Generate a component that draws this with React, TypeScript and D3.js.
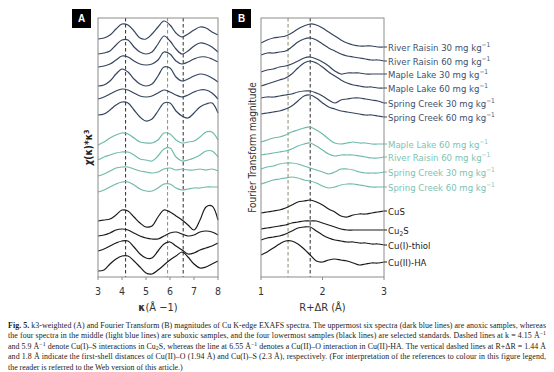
import React from "react";
import * as d3 from "d3";

// k grid (Å-1) for panel A and R+ΔR grid (Å) for panel B
const kGrid = [3, 3.25, 3.5, 3.75, 4, 4.25, 4.5, 4.75, 5, 5.25, 5.5, 5.75, 6, 6.25, 6.5, 6.75, 7, 7.25, 7.5, 7.75, 8];
const rGrid = [1, 1.1, 1.2, 1.3, 1.4, 1.5, 1.6, 1.7, 1.8, 1.9, 2, 2.1, 2.2, 2.3, 2.4, 2.5, 2.6, 2.7, 2.8, 2.9, 3];

// panel A: k3-weighted chi(k), stacked (offset units)
const chiRR30 = [23.8, 23.9, 24.2, 24.8, 25.3, 25.2, 24.6, 23.9, 23.8, 24.3, 25.0, 25.6, 25.2, 24.4, 24.0, 24.3, 24.7, 25.0, 24.9, 24.5, 24.2];
const chiRR60 = [22.3, 22.4, 22.6, 23.2, 23.7, 23.7, 23.0, 22.5, 22.3, 22.5, 23.3, 24.1, 23.6, 22.8, 22.3, 22.6, 23.1, 23.4, 23.3, 23.0, 22.5];
const chiML30 = [21.0, 21.1, 21.3, 21.7, 22.1, 22.0, 21.6, 21.3, 21.2, 21.3, 21.7, 22.5, 22.3, 21.6, 21.3, 21.5, 21.8, 22.0, 22.0, 21.8, 21.5];
const chiML60 = [19.1, 19.2, 19.6, 20.3, 20.8, 20.5, 19.8, 19.3, 19.1, 19.3, 20.1, 21.0, 20.9, 20.0, 19.6, 19.8, 20.1, 20.3, 20.2, 19.9, 19.5];
const chiSC30 = [17.8, 18.0, 18.3, 18.6, 18.8, 18.7, 18.4, 18.1, 18.0, 18.1, 18.4, 18.7, 18.5, 18.2, 18.0, 18.2, 18.5, 18.7, 18.7, 18.4, 17.8];
const chiSC60 = [16.2, 16.3, 16.7, 17.2, 17.5, 17.4, 16.7, 16.0, 15.6, 15.8, 16.6, 17.4, 17.4, 16.6, 16.1, 15.9, 16.4, 17.0, 17.3, 17.4, 16.4];
const chiML60s = [13.2, 13.5, 13.9, 14.2, 14.4, 14.3, 13.9, 13.5, 13.4, 13.4, 13.7, 14.4, 14.3, 13.7, 13.4, 13.5, 13.6, 14.0, 14.5, 14.5, 13.7];
const chiRR60s = [11.7, 12.0, 12.2, 12.4, 12.5, 12.5, 12.2, 11.8, 11.7, 11.6, 12.1, 12.8, 12.9, 12.0, 11.6, 11.7, 11.9, 12.2, 12.6, 12.6, 12.0];
const chiSC30s = [10.1, 10.3, 10.6, 10.9, 11.0, 11.0, 10.8, 10.6, 10.5, 10.4, 10.5, 10.8, 10.9, 10.7, 10.8, 10.7, 10.7, 10.8, 10.7, 10.8, 10.6];
const chiSC60s = [8.5, 8.7, 9.0, 9.3, 9.5, 9.5, 9.2, 8.8, 8.6, 8.6, 8.9, 9.3, 9.3, 8.9, 8.7, 8.8, 8.9, 8.9, 9.0, 9.0, 9.0];
const chiCuS = [5.6, 5.7, 5.8, 6.2, 6.7, 6.6, 6.0, 5.4, 5.0, 5.1, 6.0, 6.7, 6.5, 6.1, 5.7, 5.2, 4.7, 5.7, 7.0, 7.1, 5.7];
const chiCu2S = [4.1, 4.2, 4.4, 4.7, 4.8, 4.7, 4.4, 4.1, 3.9, 3.8, 3.8, 4.1, 4.4, 4.5, 4.3, 4.1, 4.2, 4.5, 4.6, 4.5, 4.2];
const chiThiol = [2.6, 2.8, 3.1, 3.4, 3.6, 3.6, 3.0, 2.3, 1.9, 1.9, 2.6, 3.3, 3.5, 3.1, 2.7, 2.3, 2.4, 2.7, 2.9, 3.1, 3.4];
const chiHA = [0.6, 0.7, 1.3, 1.8, 2.1, 2.1, 1.6, 1.0, 0.4, 0.3, 0.7, 1.2, 1.7, 2.1, 2.5, 2.0, 1.3, 0.9, 1.0, 1.3, 1.6];

// panel B: Fourier transform magnitude, stacked
const ftRR30 = [23.4, 23.7, 23.9, 24.0, 24.1, 24.4, 24.8, 25.1, 25.3, 25.2, 24.9, 24.5, 24.1, 23.7, 23.4, 23.2, 23.1, 23.1, 23.1, 23.0, 23.0];
const ftRR60 = [22.2, 22.4, 22.4, 22.5, 22.6, 23.0, 23.5, 23.8, 23.9, 23.7, 23.3, 22.9, 22.6, 22.3, 22.1, 22.0, 21.9, 21.8, 21.7, 21.7, 21.6];
const ftML30 = [20.5, 20.7, 20.8, 21.0, 21.1, 21.3, 21.6, 21.9, 22.0, 21.8, 21.5, 21.1, 20.6, 20.3, 20.4, 20.4, 20.4, 20.3, 20.3, 20.3, 20.3];
const ftML60 = [19.1, 19.3, 19.5, 19.7, 19.9, 20.3, 20.9, 21.4, 21.6, 21.4, 21.0, 20.5, 20.1, 19.7, 19.4, 19.2, 19.1, 19.0, 19.0, 18.9, 18.9];
const ftSC30 = [17.9, 18.0, 18.0, 18.1, 18.2, 18.3, 18.5, 18.6, 18.6, 18.4, 18.1, 17.7, 17.4, 17.7, 17.8, 17.9, 17.9, 17.8, 17.7, 17.6, 17.4];
const ftSC60 = [16.3, 16.4, 16.5, 16.6, 16.8, 17.1, 17.6, 18.1, 18.2, 17.9, 17.4, 17.0, 16.8, 16.6, 16.5, 16.4, 16.3, 16.2, 16.2, 16.1, 16.0];
const ftML60s = [13.5, 13.7, 13.9, 14.0, 14.2, 14.5, 14.7, 14.9, 15.0, 14.7, 14.3, 13.8, 13.4, 13.3, 13.4, 13.5, 13.4, 13.4, 13.3, 13.3, 13.3];
const ftRR60s = [12.2, 12.3, 12.4, 12.5, 12.6, 12.8, 13.1, 13.3, 13.4, 13.1, 12.7, 12.3, 12.1, 12.2, 12.2, 12.2, 12.1, 12.0, 11.9, 11.9, 12.0];
const ftSC30s = [10.8, 11.0, 11.1, 11.3, 11.4, 11.4, 11.3, 11.1, 10.9, 10.7, 10.5, 10.3, 10.5, 10.8, 10.8, 10.7, 10.5, 10.4, 10.4, 10.4, 10.5];
const ftSC60s = [9.3, 9.5, 9.7, 9.8, 9.9, 10.0, 9.9, 9.7, 9.6, 9.4, 9.1, 8.9, 9.0, 9.2, 9.3, 9.3, 9.2, 9.1, 9.0, 9.0, 9.0];
const ftCuS = [6.4, 6.5, 6.6, 6.7, 6.9, 7.2, 7.5, 7.6, 7.7, 7.5, 7.2, 6.8, 6.5, 6.1, 6.0, 6.2, 6.3, 6.3, 6.4, 6.5, 6.6];
const ftCu2S = [4.8, 4.9, 5.0, 5.1, 5.2, 5.4, 5.5, 5.6, 5.6, 5.6, 5.4, 5.2, 5.0, 4.8, 4.7, 4.7, 4.7, 4.7, 4.7, 4.7, 4.7];
const ftThiol = [3.7, 3.9, 4.0, 4.1, 4.3, 4.6, 4.9, 5.0, 5.0, 4.6, 4.2, 3.9, 3.7, 3.6, 3.5, 3.5, 3.4, 3.4, 3.3, 3.3, 3.2];
const ftHA = [2.2, 2.5, 2.9, 3.3, 3.6, 3.6, 3.3, 2.8, 2.2, 1.6, 1.5, 1.7, 1.8, 1.7, 1.6, 1.4, 1.2, 1.3, 1.4, 1.4, 1.5];

const sampleLabels = [
  "River Raisin 30", "River Raisin 60", "Maple Lake 30", "Maple Lake 60", "Spring Creek 30", "Spring Creek 60",
  "Maple Lake 60", "River Raisin 60", "Spring Creek 30", "Spring Creek 60",
];
const standardLabels = ["CuS", "Cu2S", "Cu(I)-thiol", "Cu(II)-HA"];
const groups = ["anoxic", "anoxic", "anoxic", "anoxic", "anoxic", "anoxic", "suboxic", "suboxic", "suboxic", "suboxic", "std", "std", "std", "std"];

const chiSeries = [chiRR30, chiRR60, chiML30, chiML60, chiSC30, chiSC60, chiML60s, chiRR60s, chiSC30s, chiSC60s, chiCuS, chiCu2S, chiThiol, chiHA];
const ftSeries = [ftRR30, ftRR60, ftML30, ftML60, ftSC30, ftSC60, ftML60s, ftRR60s, ftSC30s, ftSC60s, ftCuS, ftCu2S, ftThiol, ftHA];

const kTicks = [3, 4, 5, 6, 7, 8];
const rTicks = [1, 2, 3];
const kDashed = [4.15, 5.9, 6.55];
const rDashed = [1.44, 1.8];

const lineColor: Record<string, string> = { anoxic: "#34445f", suboxic: "#6fbaab", std: "#1a1a1a" };
const labelColor: Record<string, string> = { anoxic: "#41506e", suboxic: "#7dc2b4", std: "#1a1a1a" };
const sans = "'Liberation Sans Narrow', 'DejaVu Sans Condensed', 'Arial Narrow', sans-serif";
const serif = "'Liberation Serif', 'DejaVu Serif', serif";

const top = 18;
const bottom = 277;
const y = d3.scaleLinear().domain([0, 25.9]).range([bottom, top]);
const xA = d3.scaleLinear().domain([3, 8]).range([98, 218]);
const xB = d3.scaleLinear().domain([1, 3]).range([261, 384]);

function Panel({ x, grid, series, ticks, dashed, dashColors }: any) {
  const line = d3
    .line<number>()
    .x((_, i) => x(grid[i]))
    .y((d) => y(d))
    .curve(d3.curveCatmullRom);
  const [x0, x1] = x.range();
  return (
    <g>
      {dashed.map((d: number, i: number) => (
        <line key={"d" + i} x1={x(d)} x2={x(d)} y1={top} y2={bottom}
          stroke={dashColors[i]} strokeWidth={1} strokeDasharray="3.5,2.5" />
      ))}
      {series.map((s: number[], i: number) => (
        <path key={i} d={line(s) || ""} fill="none" stroke={lineColor[groups[i]]} strokeWidth={1.2} />
      ))}
      <rect x={x0} y={top} width={x1 - x0} height={bottom - top} fill="none" stroke="#8c8c8c" strokeWidth={1} />
      {ticks.map((t: number) => (
        <g key={t}>
          <line x1={x(t)} x2={x(t)} y1={bottom} y2={bottom + 3} stroke="#8c8c8c" />
          <text x={x(t)} y={295} textAnchor="middle" fontSize={10.5} fill="#333" fontFamily={sans}>{t}</text>
        </g>
      ))}
    </g>
  );
}

function SampleLabel({ i, yPos }: { i: number; yPos: number }) {
  const c = labelColor[groups[i]];
  if (i < 10) {
    return (
      <text x={388} y={yPos + 3.5} fontSize={9.5} fill={c} fontFamily={sans}>
        {sampleLabels[i]} mg kg
        <tspan fontSize={6.5} dy={-3.5}>{"\u22121"}</tspan>
      </text>
    );
  }
  const name = standardLabels[i - 10];
  if (name === "Cu2S") {
    return (
      <text x={388} y={yPos + 3.5} fontSize={9.5} fill={c} fontFamily={sans}>
        Cu<tspan fontSize={6.5} dy={2}>2</tspan><tspan dy={-2}>S</tspan>
      </text>
    );
  }
  return (
    <text x={388} y={yPos + 3.5} fontSize={9.5} fill={c} fontFamily={sans}>{name}</text>
  );
}

const sup = (s: string) => <tspan fontSize={5.8} dy={-3}>{s}</tspan>;
const base = (s: string) => <tspan dy={3}>{s}</tspan>;

export default function App() {
  const capX = 8;
  const capW = 538;
  const capFont = 7.9;
  return (
    <svg width={554} height={372} style={{ position: "absolute", left: 0, top: 0, background: "#fff" }}>
      {/* panel tags */}
      <rect x={72} y={9} width={19} height={19} fill="#000" />
      <text x={81.5} y={22} textAnchor="middle" fill="#fff" fontSize={10} fontWeight="bold" fontFamily="'Liberation Sans', Arial, sans-serif">A</text>
      <rect x={232} y={9} width={19} height={19} fill="#000" />
      <text x={241.5} y={22} textAnchor="middle" fill="#fff" fontSize={10} fontWeight="bold" fontFamily="'Liberation Sans', Arial, sans-serif">B</text>

      <Panel x={xA} grid={kGrid} series={chiSeries} ticks={kTicks} dashed={kDashed} dashColors={["#2a2a2a", "#8a8a6c", "#2a2a2a"]} />
      <Panel x={xB} grid={rGrid} series={ftSeries} ticks={rTicks} dashed={rDashed} dashColors={["#8a8a6c", "#2a2a2a"]} />

      {ftSeries.map((s, i) => {
        const yEnd = y(s[s.length - 1]);
        return (
          <g key={i}>
            <line x1={384} x2={387} y1={yEnd} y2={yEnd} stroke={lineColor[groups[i]]} strokeWidth={1} />
            <SampleLabel i={i} yPos={yEnd} />
          </g>
        );
      })}

      {/* axis titles */}
      <text transform="translate(92,147.5) rotate(-90)" textAnchor="middle" fontSize={10} fontWeight="bold" fill="#222" fontFamily={sans}>
        <tspan fontStyle="italic">χ</tspan>(κ)*κ<tspan fontSize={7} dy={-3.5}>3</tspan>
      </text>
      <text transform="translate(256,147.5) rotate(-90)" textAnchor="middle" fontSize={10} fill="#333" fontFamily={sans}>
        Fourier Transform magnitude
      </text>
      <text x={158} y={311} textAnchor="middle" fontSize={11} fill="#333" fontFamily={sans}>
        <tspan fontWeight="bold">κ</tspan>(Å −1)
      </text>
      <text x={322.5} y={311} textAnchor="middle" fontSize={11} fill="#333" fontFamily={sans}>
        R+ΔR (Å)
      </text>

      {/* caption */}
      <g fontFamily={serif} fontSize={capFont} fill="#1a1a1a">
        <text x={capX} y={327.5} textLength={capW} lengthAdjust="spacing">
          <tspan fontWeight="bold">Fig. 5.</tspan>  k3-weighted (A) and Fourier Transform (B) magnitudes of Cu K-edge EXAFS spectra. The uppermost six spectra (dark blue lines) are anoxic samples, whereas
        </text>
        <text x={capX} y={338} textLength={capW} lengthAdjust="spacing">
          the four spectra in the middle (light blue lines) are suboxic samples, and the four lowermost samples (black lines) are selected standards. Dashed lines at k = 4.15 Å{sup("−1")}
        </text>
        <text x={capX} y={348.5} textLength={capW} lengthAdjust="spacing">
          and 5.9 Å{sup("−1")}{base(" denote Cu(I)–S interactions in Cu")}<tspan fontSize={5.8} dy={1.5}>2</tspan><tspan dy={-1.5}>S, whereas the line at 6.55 Å</tspan>{sup("−1")}{base(" denotes a Cu(II)–O interaction in Cu(II)-HA. The vertical dashed lines at R+ΔR = 1.44 Å")}
        </text>
        <text x={capX} y={359} textLength={capW} lengthAdjust="spacing">
          and 1.8 Å indicate the first-shell distances of Cu(II)–O (1.94 Å) and Cu(I)–S (2.3 Å), respectively. (For interpretation of the references to colour in this figure legend,
        </text>
        <text x={capX} y={369.5}>
          the reader is referred to the Web version of this article.)
        </text>
      </g>
    </svg>
  );
}
